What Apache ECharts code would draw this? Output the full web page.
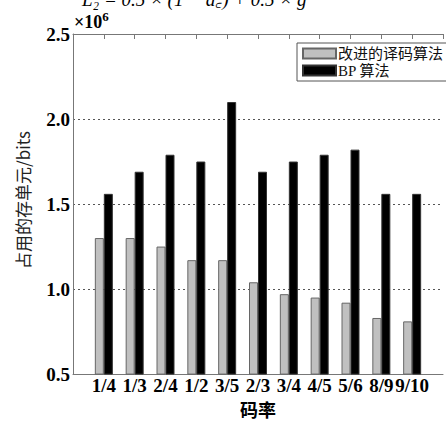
<!DOCTYPE html>
<html>
<head>
<meta charset="utf-8">
<script src="https://cdn.jsdelivr.net/npm/echarts@6/dist/echarts.min.js"></script>
<style>html,body{margin:0;padding:0;background:#fff}#c{width:446px;height:423px}</style>
</head>
<body>
<div id="c"></div>
<script>
// Data (values in units of 10^6 bits)
var categories = ['1/4','1/3','2/4','1/2','3/5','2/3','3/4','4/5','5/6','8/9','9/10'];
var improvedValues = [1.30, 1.30, 1.25, 1.17, 1.17, 1.04, 0.97, 0.95, 0.92, 0.83, 0.81];
var bpValues = [1.56, 1.69, 1.79, 1.75, 2.10, 1.69, 1.75, 1.79, 1.82, 1.56, 1.56];
var seriesNames = ['改进的译码算法', 'BP 算法'];
var yTicks = [0.5, 1.0, 1.5, 2.0, 2.5];
var yAxisTitle = '占用的存单元/bits';
var xAxisTitle = '码率';

var serif = '"Liberation Serif","Noto Sans CJK SC",serif';
var cjk = '"Noto Sans CJK SC",sans-serif';

function toPoints(vals){ return vals.map(function(v,i){ return [i+1, v]; }); }

var chart = echarts.init(document.getElementById('c'), null, {renderer:'svg'});
chart.setOption({
  animation: false,
  backgroundColor: '#fff',
  grid: {left: 73, top: 34, right: -3, bottom: 44},
  graphic: [
    {type:'text', left: 74, top: 10, style:{text:'{a|×10}{b|6}', rich:{a:{font:'bold 18px '+serif, fill:'#000'}, b:{font:'bold 13px '+serif, fill:'#000', verticalAlign:'top', padding:[0,0,10,0]}}}},
    {type:'text', left: 82, top: -10, style:{text:'L₂ = 0.5 × (1 − d꜀) + 0.5 × g', font:'italic 19px '+serif, fill:'#000'}},
    {type:'text', x: 22, y: 200, rotation: Math.PI/2,
      style:{text: yAxisTitle, font:'17px '+cjk, fill:'#222', align:'center', verticalAlign:'middle'}}
  ],
  legend: {
    orient: 'vertical', left: 297, top: 43,
    backgroundColor: '#fff', borderColor: '#555', borderWidth: 1,
    padding: [3, 4, 3, 5], itemWidth: 33, itemHeight: 10, itemGap: 2, icon: 'rect',
    textStyle: {fontFamily: serif, fontSize: 15, color: '#111', padding:[0,0,0,-3]},
    data: seriesNames
  },
  xAxis: [{
    type: 'value', min: 0, max: 12, interval: 1, position: 'bottom',
    name: xAxisTitle, nameLocation: 'middle', nameGap: 25,
    nameTextStyle: {fontFamily: cjk, fontWeight: 'bold', fontSize: 18, color: '#000'},
    axisLine: {show: true, lineStyle: {color: '#777', width: 1}},
    axisTick: {show: false},
    splitLine: {show: false},
    axisLabel: {margin: 2, fontFamily: serif, fontWeight: 'bold', fontSize: 19, color: '#000',
      formatter: function(v){ return categories[v-1] || ''; }}
  },{
    type: 'value', min: 0, max: 12, interval: 1, position: 'top',
    axisLine: {show: true, lineStyle: {color: '#777', width: 1}},
    axisTick: {show: true, inside: true, length: 5, lineStyle: {color: '#777'}},
    axisLabel: {show: false}, splitLine: {show: false}
  }],
  yAxis: {
    type: 'value', min: yTicks[0], max: yTicks[yTicks.length-1], interval: 0.5,
    axisLine: {show: true, lineStyle: {color: '#777', width: 1}},
    axisTick: {show: false},
    axisLabel: {margin: 3, fontFamily: serif, fontWeight: 'bold', fontSize: 19, color: '#000',
      formatter: function(v){ return v.toFixed(1); }},
    splitLine: {show: true, lineStyle: {color: '#555', type: [2, 3], width: 1}}
  },
  series: [{
    name: seriesNames[0], type: 'bar', barWidth: 9, barGap: '0%',
    itemStyle: {color: '#c0c0c0', borderColor: '#666', borderWidth: 1},
    data: toPoints(improvedValues)
  },{
    name: seriesNames[1], type: 'bar', barWidth: 9, barGap: '0%',
    itemStyle: {color: '#000', borderColor: '#333', borderWidth: 1},
    data: toPoints(bpValues)
  }]
});
</script>
</body>
</html>
